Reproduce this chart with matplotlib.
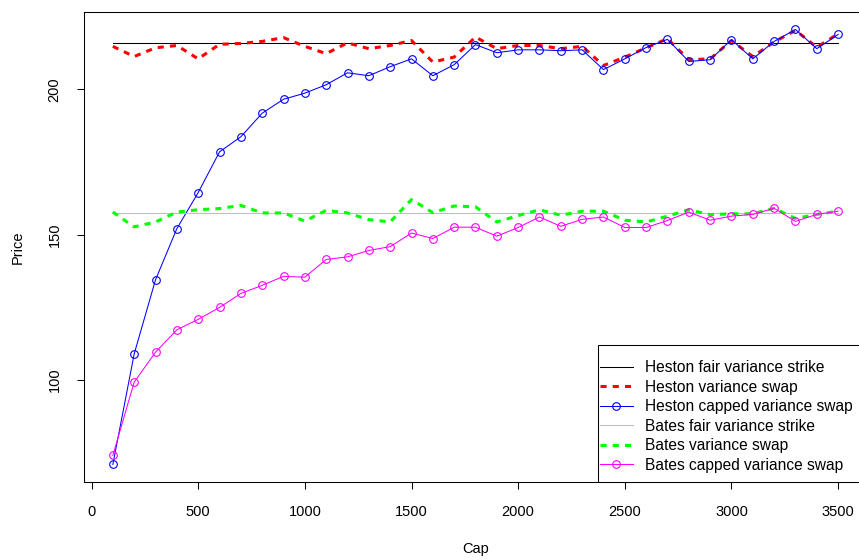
import matplotlib
matplotlib.use('Agg')
import matplotlib.pyplot as plt
from matplotlib.patches import Rectangle

plt.rcParams['font.family'] = ['Liberation Sans', 'DejaVu Sans']

cap = list(range(100, 3600, 100))

heston_strike = 215.8
bates_strike = 157.5

heston_swap = [214.8, 211.3, 214.3, 215.1, 210.5, 215.5, 215.8, 216.5, 217.8, 214.8,
               212.3, 216.0, 214.0, 215.1, 216.8, 209.4, 211.1, 218.0, 214.0, 215.1,
               215.1, 214.0, 214.8, 208.2, 211.1, 214.3, 217.4, 210.2, 210.5, 216.8,
               211.3, 216.3, 220.3, 214.5, 219.1]

heston_capped = [71.0, 109.0, 134.5, 152.1, 164.5, 178.5, 183.7, 191.8, 196.6, 198.7,
                 201.6, 205.7, 204.7, 207.8, 210.5, 204.7, 208.5, 215.4, 212.6, 213.6,
                 213.6, 213.3, 213.6, 206.8, 210.5, 214.4, 217.2, 209.6, 210.2, 217.1,
                 210.5, 216.5, 220.6, 214.0, 218.9]

bates_swap = [157.8, 152.7, 154.4, 157.8, 158.6, 159.0, 160.1, 157.5, 157.5, 154.7,
              158.4, 157.5, 155.2, 154.4, 162.1, 157.6, 159.9, 159.6, 154.4, 156.6,
              158.6, 156.7, 158.1, 158.1, 155.0, 154.4, 156.4, 158.6, 156.9, 157.2,
              157.2, 159.1, 155.6, 157.0, 158.1]

bates_capped = [74.1, 99.3, 109.6, 117.3, 120.9, 125.0, 129.8, 132.6, 135.7, 135.4,
                141.5, 142.4, 144.6, 145.9, 150.6, 148.7, 152.6, 152.6, 149.5, 152.5,
                156.1, 152.9, 155.3, 156.1, 152.5, 152.5, 154.9, 157.8, 155.0, 156.4,
                157.0, 159.1, 154.6, 157.0, 158.1]

fig = plt.figure(figsize=(8.59, 5.6), dpi=100)
# plot box runs a bit past the right edge of the canvas
ax = fig.add_axes([0.0976, 0.1395, 0.9119, 0.839])

lw = 0.75
ms = 5.5
ax.plot([cap[0], cap[-1]], [heston_strike, heston_strike], color='black', lw=lw,
        label='Heston fair variance strike')
ax.plot(cap, heston_swap, color='red', lw=2.2, dashes=(2, 2),
        label='Heston variance swap')
ax.plot(cap, heston_capped, color='blue', lw=lw, marker='o', markersize=ms,
        markerfacecolor='none', markeredgewidth=0.8,
        label='Heston capped variance swap')
ax.plot([cap[0], cap[-1]], [bates_strike, bates_strike], color='#BEBEBE', lw=lw,
        label='Bates fair variance strike')
ax.plot(cap, bates_swap, color='#00FF00', lw=2.2, dashes=(2, 2),
        label='Bates variance swap')
ax.plot(cap, bates_capped, color='#FF00FF', lw=lw, marker='o', markersize=ms,
        markerfacecolor='none', markeredgewidth=0.8,
        label='Bates capped variance swap')

ax.set_xlim(-36, 3636)
ax.set_ylim(65, 226.6)
ax.set_xticks(range(0, 3501, 500))
ax.set_yticks([100, 150, 200])
ax.tick_params(direction='out', length=5, width=0.75, labelsize=10.5)
ax.tick_params(axis='x', pad=12)
ax.tick_params(axis='y', pad=11)
plt.setp(ax.get_yticklabels(), rotation=90, va='center')
for s in ax.spines.values():
    s.set_linewidth(0.75)

ax.set_xlabel('Cap', fontsize=10.5)
ax.xaxis.set_label_coords(0.5, -0.128)
ax.set_ylabel('Price', fontsize=10.5)
ax.yaxis.set_label_coords(-0.075, 0.5)

# legend box tucked into the bottom-right corner, wider top margin than side margin
ax.add_patch(Rectangle((0.6565, 0.0), 0.5, 0.2913, transform=ax.transAxes,
                       facecolor='white', edgecolor='black', lw=0.75, zorder=4,
                       clip_on=False))
leg = ax.legend(loc='upper left', bbox_to_anchor=(0.6585, 0.259), borderaxespad=0,
                frameon=False, fontsize=11.2, handlelength=2.15, handletextpad=0.75,
                labelspacing=0.29, borderpad=0, numpoints=1)
leg.set_zorder(5)

plt.savefig('out.png', dpi=100)
